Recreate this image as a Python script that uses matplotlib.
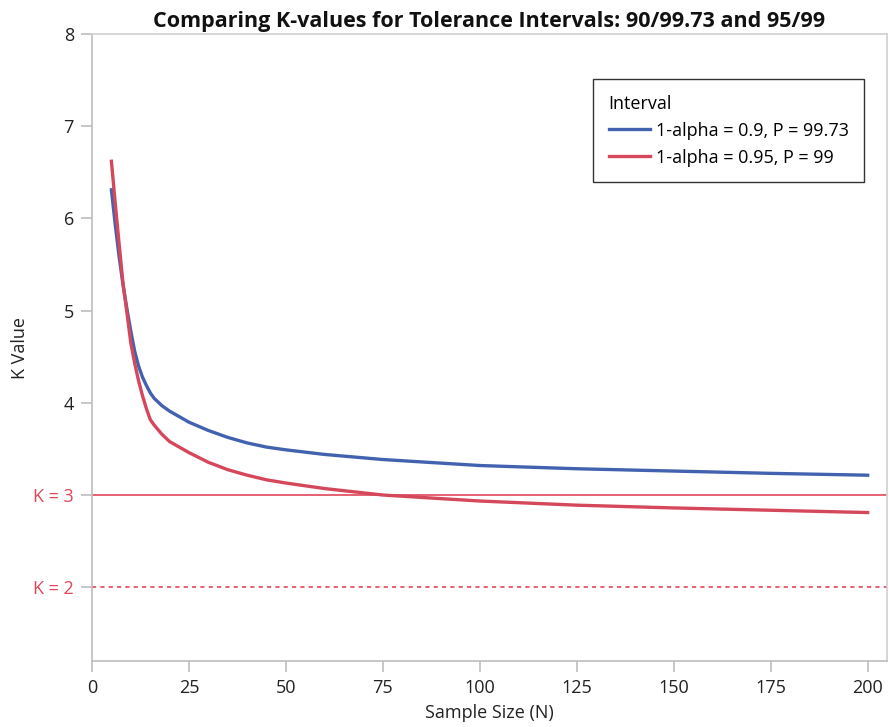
import matplotlib
matplotlib.use("Agg")
import matplotlib.pyplot as plt

plt.rcParams['font.family'] = ['Open Sans', 'DejaVu Sans']

# Sample sizes and tolerance K-factors for the two interval settings
sample_n = [5, 6, 7, 8, 9, 10, 11, 12, 13, 14, 15, 16, 18, 20, 25, 30, 35, 40,
            45, 50, 60, 75, 100, 125, 150, 175, 200]
k_90_9973 = [6.31, 5.93, 5.58, 5.28, 5.02, 4.78, 4.56, 4.40, 4.28, 4.19, 4.11,
             4.05, 3.97, 3.91, 3.79, 3.70, 3.625, 3.565, 3.52, 3.49, 3.44,
             3.385, 3.32, 3.285, 3.26, 3.235, 3.215]
k_95_99 = [6.62, 6.16, 5.72, 5.29, 4.98, 4.65, 4.43, 4.24, 4.08, 3.94, 3.82,
           3.76, 3.66, 3.58, 3.46, 3.355, 3.275, 3.215, 3.165, 3.13, 3.07,
           3.00, 2.935, 2.89, 2.86, 2.835, 2.81]
series_labels = ["1-alpha = 0.9, P = 99.73", "1-alpha = 0.95, P = 99"]
ref_k = [3, 2]
x_ticks = [0, 25, 50, 75, 100, 125, 150, 175, 200]
y_ticks = [2, 3, 4, 5, 6, 7, 8]

BLUE = "#4262b0"
RED = "#d5475b"
REF_RED = "#e0475a"
GRID_GRAY = "#bdbdbd"
FS = 13

fig = plt.figure(figsize=(8.89, 7.27), dpi=100)
ax = fig.add_axes([0.1035, 0.0908, 0.8943, 0.8624])

# reference levels
ax.axhline(ref_k[0], color=REF_RED, lw=1.2, zorder=1)
ax.axhline(ref_k[1], color=REF_RED, lw=1.2, ls=(0, (2.5, 2.5)), zorder=1)

ax.plot(sample_n, k_90_9973, color=BLUE, lw=2.4, label=series_labels[0],
        solid_joinstyle="round", zorder=3)
ax.plot(sample_n, k_95_99, color=RED, lw=2.4, label=series_labels[1],
        solid_joinstyle="round", zorder=3)

ax.set_xlim(0, 205)
ax.set_ylim(1.2, 8)
ax.set_xticks(x_ticks)
ax.set_yticks(y_ticks)
ylabels = [f"K = {v}" if v in ref_k else str(v) for v in y_ticks]
ax.set_yticklabels(ylabels)

for spine in ax.spines.values():
    spine.set_color(GRID_GRAY)
    spine.set_linewidth(1.2)
ax.spines['top'].set_color("#d0d0d0")
ax.spines['right'].set_color("#d0d0d0")

ax.tick_params(axis='both', direction='out', length=8, width=1.2,
               color=GRID_GRAY, labelsize=FS, labelcolor="#222222", pad=5)
for lbl, v in zip(ax.get_yticklabels(), y_ticks):
    if v in ref_k:
        lbl.set_color(REF_RED)
for tk, v in zip(ax.yaxis.get_major_ticks(), y_ticks):
    if v in ref_k:
        tk.tick1line.set_color(REF_RED)

ax.set_xlabel("Sample Size (N)", fontsize=FS, color="#222222", labelpad=5)
ax.set_ylabel("K Value", fontsize=FS, color="#222222", labelpad=3)
ax.set_title("Comparing K-values for Tolerance Intervals: 90/99.73 and 95/99",
             fontsize=15.5, fontweight="bold", color="#111111", pad=5)

leg = ax.legend(title="Interval", loc="upper right",
                bbox_to_anchor=(0.971, 0.928), frameon=True, fancybox=False,
                edgecolor="black", fontsize=FS, title_fontsize=FS,
                alignment="left", handlelength=2.3, handletextpad=0.3,
                borderpad=0.85, labelspacing=0.5, borderaxespad=0)
leg.get_frame().set_linewidth(1.0)

fig.savefig("out.png", dpi=100)
